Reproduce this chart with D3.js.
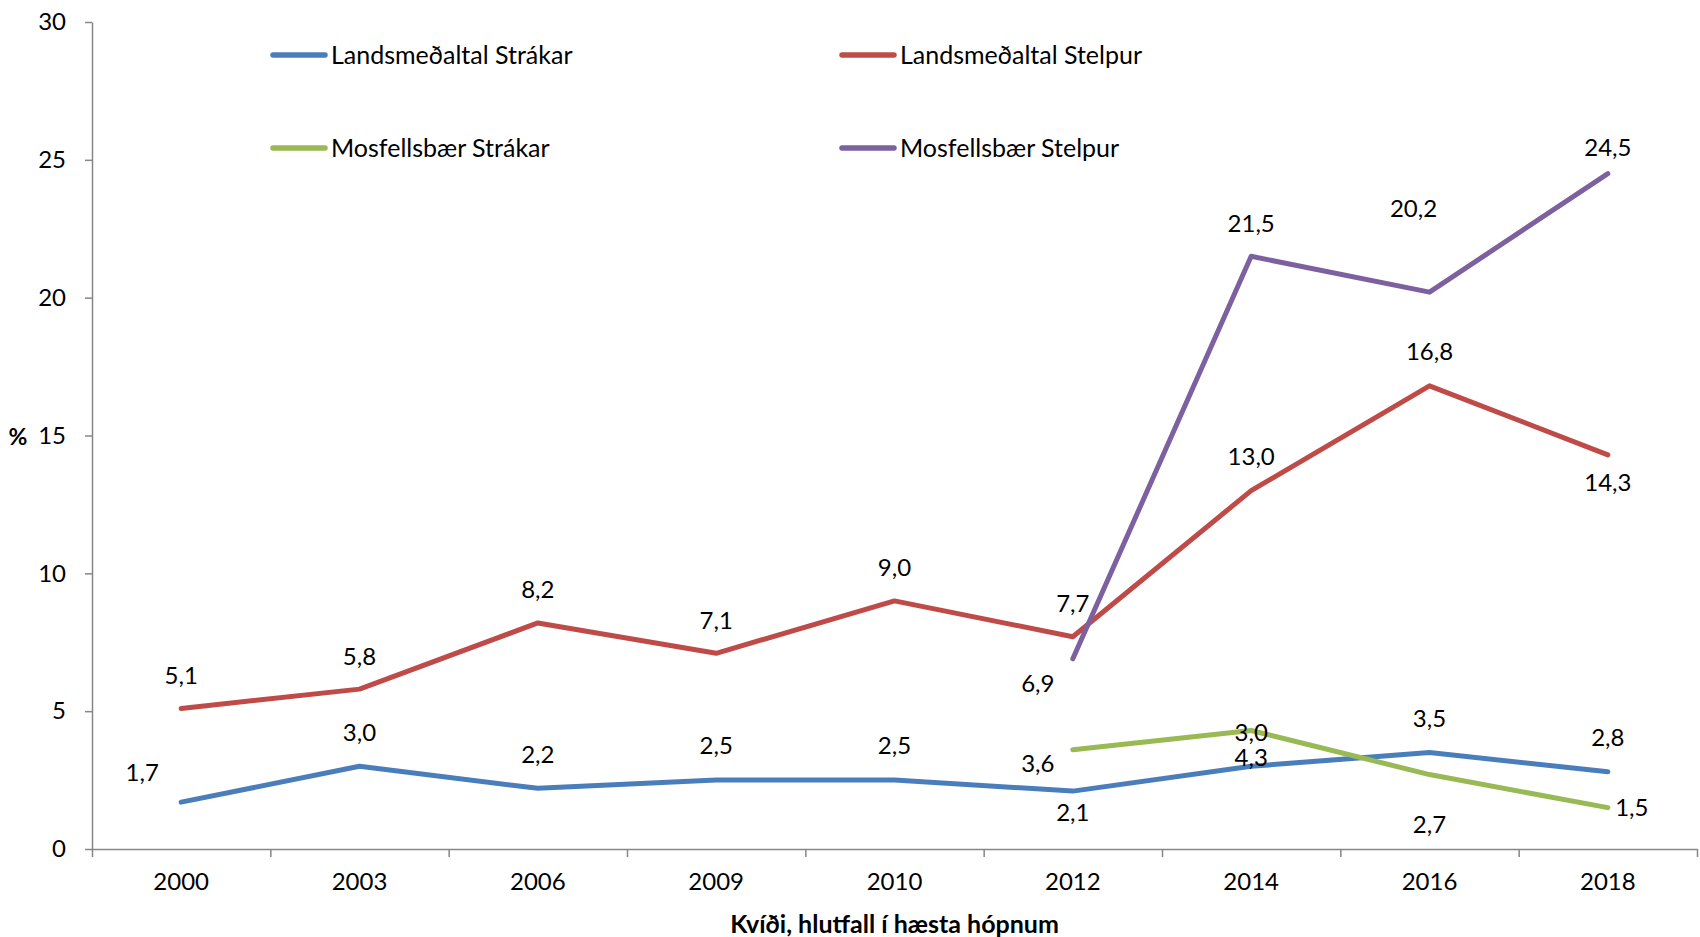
<!DOCTYPE html>
<html>
<head>
<meta charset="utf-8">
<script src="https://cdn.jsdelivr.net/npm/d3@7"></script>
<style>
  body { margin: 0; background: #fff; }
  svg { display: block; }
  text { font-family: "Lato", "Liberation Sans", sans-serif; fill: #000; }
</style>
</head>
<body>
<div id="chart"></div>
<script>
// Ár á x-ás
var years = ["2000", "2003", "2006", "2009", "2010", "2012", "2014", "2016", "2018"];
var yTicks = [0, 5, 10, 15, 20, 25, 30];

// Gildi hverrar línu (null = engin gögn)
var landsStrakar = [1.7, 3.0, 2.2, 2.5, 2.5, 2.1, 3.0, 3.5, 2.8];
var landsStelpur = [5.1, 5.8, 8.2, 7.1, 9.0, 7.7, 13.0, 16.8, 14.3];
var mosStrakar   = [null, null, null, null, null, 3.6, 4.3, 2.7, 1.5];
var mosStelpur   = [null, null, null, null, null, 6.9, 21.5, 20.2, 24.5];

var seriesNames = ["Landsmeðaltal Strákar", "Landsmeðaltal Stelpur", "Mosfellsbær Strákar", "Mosfellsbær Stelpur"];
var seriesColors = ["#4A7EBB", "#BE4B48", "#98B954", "#7D60A0"];

// placement of value labels relative to the point [dx, dy]
var labelPos = [
  [[-39, -30], [0, -34], [0, -34], [0, -34], [0, -34], [0, 21], [0, -34], [0, -34], [0, -34]],
  [[0, -33], [0, -33], [0, -33], [0, -33], [0, -33], [0, -33], [0, -34], [0, -34], [0, 28]],
  [null, null, null, null, null, [-35, 14], [0, 27], [0, 50], [24, 0]],
  [null, null, null, null, null, [-35, 25], [0, -33], [-16, -84], [0, -26]]
];

var width = 1700, height = 937;
var marginLeft = 92, marginRight = 3, marginTop = 22, marginBottom = 88;
var fontSize = 24;

function init() {
  var allValues = [landsStrakar, landsStelpur, mosStrakar, mosStelpur];

  var svg = d3.select("#chart").append("svg")
      .attr("width", width)
      .attr("height", height)
      .attr("viewBox", [0, 0, width, height]);

  svg.append("rect").attr("width", width).attr("height", height).attr("fill", "#fff");

  var xScale = d3.scaleBand().domain(years).range([marginLeft, width - marginRight]).padding(0);
  var xEdges = d3.scaleLinear().domain([0, years.length]).range([marginLeft, width - marginRight]);
  var yScale = d3.scaleLinear().domain([0, 30]).range([height - marginBottom, marginTop]);
  var xMid = d => xScale(d) + xScale.bandwidth() / 2;

  // y axis
  svg.append("g")
      .attr("transform", `translate(${marginLeft},0)`)
      .call(d3.axisLeft(yScale).tickValues(yTicks).tickSize(7).tickSizeOuter(0).tickPadding(19))
      .call(g => g.selectAll("path, line").attr("stroke", "#868686").attr("stroke-width", 1.5))
      .call(g => g.selectAll("text").style("font-size", fontSize + "px").attr("fill", "#000"));

  // x axis: ticks at the band edges
  svg.append("g")
      .attr("transform", `translate(0,${height - marginBottom})`)
      .call(d3.axisBottom(xEdges).tickValues(d3.range(years.length + 1)).tickSize(8).tickSizeOuter(0).tickFormat(""))
      .call(g => g.selectAll("path, line").attr("stroke", "#868686").attr("stroke-width", 1.5));

  // x labels at band centres
  svg.append("g")
      .attr("transform", `translate(0,${height - marginBottom})`)
      .call(d3.axisBottom(xScale).tickSize(0).tickPadding(24))
      .call(g => g.select(".domain").remove())
      .call(g => g.selectAll("text").style("font-size", fontSize + "px").attr("fill", "#000"));

  // axis titles
  svg.append("text")
      .attr("x", (marginLeft + width - marginRight) / 2)
      .attr("y", 933)
      .attr("text-anchor", "middle")
      .style("font-size", "25px")
      .style("font-weight", "bold")
      .text("Kvíði, hlutfall í hæsta hópnum");

  svg.append("text")
      .attr("x", 18)
      .attr("y", 437)
      .attr("dy", "0.35em")
      .attr("text-anchor", "middle")
      .style("font-size", "23px")
      .style("font-weight", "bold")
      .text("%");

  var line = d3.line()
      .defined(d => d != null)
      .x((d, i) => xMid(years[i]))
      .y(d => yScale(d));

  // lines
  svg.append("g")
      .attr("fill", "none")
      .attr("stroke-width", 5)
      .attr("stroke-linejoin", "round")
      .attr("stroke-linecap", "round")
    .selectAll("path")
    .data(allValues)
    .enter().append("path")
      .attr("stroke", (d, i) => seriesColors[i])
      .attr("d", d => line(d));

  // value labels
  allValues.forEach(function(vals, s) {
    svg.append("g")
      .selectAll("text")
      .data(vals.map((v, i) => ({v: v, i: i})).filter(d => d.v != null))
      .enter().append("text")
        .attr("x", d => xMid(years[d.i]) + labelPos[s][d.i][0])
        .attr("y", d => yScale(d.v) + labelPos[s][d.i][1])
        .attr("dy", "0.35em")
        .attr("text-anchor", "middle")
        .style("font-size", fontSize + "px")
        .text(d => d3.format(".1f")(d.v).replace(".", ","));
  });

  // legend
  var legendX = [273, 842];
  var legendY = [55, 148];
  var legend = svg.append("g")
    .selectAll("g")
    .data(seriesNames)
    .enter().append("g")
      .attr("transform", (d, i) => `translate(${legendX[i % 2]},${legendY[Math.floor(i / 2)]})`);

  legend.append("line")
      .attr("x1", 0).attr("x2", 52)
      .attr("stroke", (d, i) => seriesColors[i])
      .attr("stroke-width", 5.5)
      .attr("stroke-linecap", "round");

  legend.append("text")
      .attr("x", 58)
      .attr("dy", "0.35em")
      .style("font-size", "25px")
      .text(d => d);
}

window.onload = init;
</script>
</body>
</html>
